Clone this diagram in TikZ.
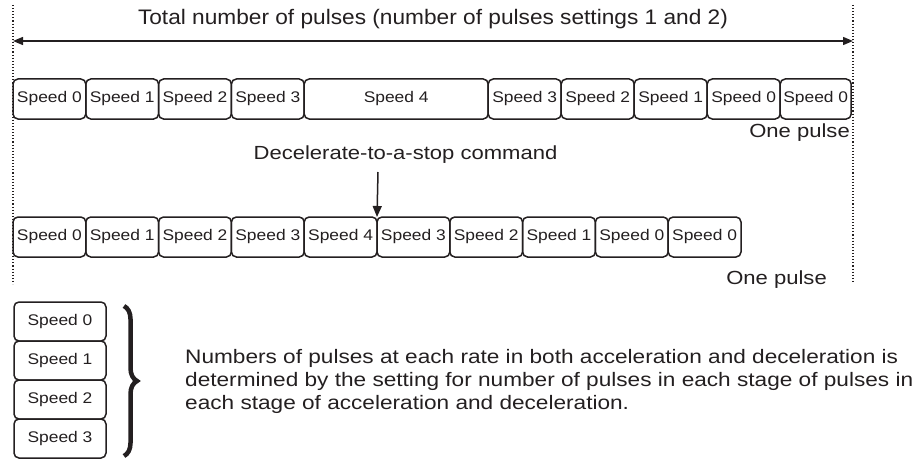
\documentclass[tikz,border=0pt]{standalone}
\usepackage{fontspec}
\setmainfont{Liberation Sans}[FakeStretch=1.08]
\newfontfamily\boxfont{Liberation Sans}[FakeStretch=1.13]
\newfontfamily\notefont{Liberation Sans}[FakeStretch=1.16]
\usetikzlibrary{positioning,arrows.meta,decorations.pathreplacing}
\definecolor{ink}{RGB}{35,31,32}

\tikzset{
  spd/.style={draw=ink, line width=1.5pt, rounded corners=5pt, outer sep=0pt,
    minimum height=40pt, minimum width=72.8pt, inner sep=0pt, text=ink,
    font=\boxfont\fontsize{15.4}{18}\selectfont},
  bound/.style={draw=ink, dotted, line width=1.1pt},
  lbl/.style={text=ink, inner sep=0pt, font=\notefont\fontsize{19}{23}\selectfont},
  tip/.style={-{Triangle[length=11pt,width=9pt]}, draw=ink, line width=1.5pt},
}

\begin{document}
\begin{tikzpicture}[x=1pt,y=-1pt]
\useasboundingbox (0,0) rectangle (913,460);

% Dotted limits
\coordinate (lt) at (13,5);
\coordinate (lb) at (13,284);
\coordinate (rt) at (853,5);
\coordinate (rb) at (853,283);
\draw[bound] (lt) -- (lb);
\draw[bound] (rt) -- (rb);

% Total count
\node[lbl, font=\fontsize{21}{25}\selectfont] (total) at (433,19)
  {Total number of pulses (number of pulses settings 1 and 2)};
\coordinate (al) at (13,41);
\coordinate (ar) at (853,41);
\draw[draw=ink, line width=1.4pt, {Triangle[length=10pt,width=8pt]}-{Triangle[length=10pt,width=8pt]}] (al) -- (ar);

% Full run
\node[spd, anchor=west] (a0) at (13,99) {Speed 0};
\foreach \s/\w [count=\i, remember=\i as \p (initially 0)] in
  {1/72.8,2/72.8,3/72.8,4/184,3/73,2/73,1/73,0/73,0/71}
  \node[spd, minimum width=\w pt, right=0pt of a\p] (a\i) {Speed \s};
\node[lbl, anchor=east] (pulse1) at (850,133) {One pulse};

% Stop command
\node[lbl] (cmd) at (405.5,155) {Decelerate-to-a-stop command};
\coordinate (cmdtop) at (378,172);

% Stopped run
\node[spd, anchor=west] (b0) at (13,237) {Speed 0};
\foreach \s [count=\i, remember=\i as \p (initially 0)] in {1,2,3,4,3,2,1,0,0}
  \node[spd, right=0pt of b\p] (b\i) {Speed \s};
\draw[tip] (cmdtop) -- (b5.north west);
\node[lbl, anchor=east] (pulse2) at (827,280) {One pulse};

% Legend
\node[spd, minimum width=92pt, minimum height=39pt] (c0) at (60,321.5) {Speed 0};
\foreach \s [count=\i, remember=\i as \p (initially 0)] in {1,2,3}
  \node[spd, minimum width=92pt, minimum height=39pt, below=0pt of c\p] (c\i) {Speed \s};
\coordinate (bt) at (124,306);
\coordinate (bb) at (124,456);
\draw[draw=ink, line width=4.5pt, decorate, decoration={brace, amplitude=13pt}] (bt) -- (bb);

\node[lbl, anchor=north west, align=left, font=\notefont\fontsize{19.5}{23}\selectfont] (note) at (185,349)
  {Numbers of pulses at each rate in both acceleration and deceleration is\\
   determined by the setting for number of pulses in each stage of pulses in\\
   each stage of acceleration and deceleration.};
\end{tikzpicture}
\end{document}
